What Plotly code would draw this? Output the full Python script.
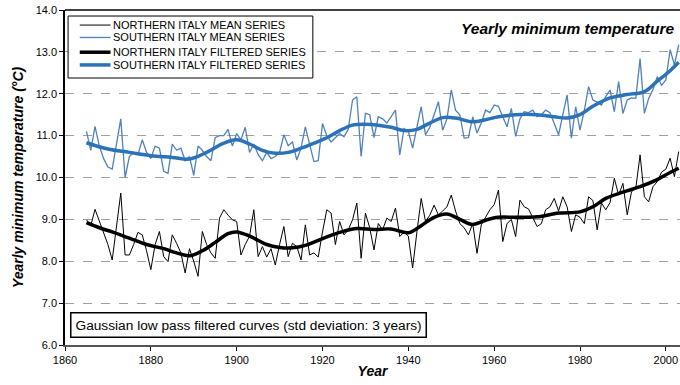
import plotly.graph_objects as go

years = list(range(1865, 2004))

north_mean = [
    8.99, 8.85, 9.24, 8.95, 8.71,            # 1865-1869
    8.40, 8.03, 8.80, 9.63, 8.15, 8.15, 8.40, 8.69, 8.63, 8.25,   # 1870-1879
    7.80, 8.40, 8.71, 8.11, 7.99, 8.63, 8.43, 8.20, 7.72, 8.30,   # 1880-1889
    8.00, 7.64, 8.71, 8.40, 8.20, 8.07, 9.03, 9.23, 9.10, 8.99,   # 1890-1899
    8.95, 8.15, 8.40, 8.60, 9.23, 8.11, 8.35, 8.10, 8.30, 7.91,   # 1900-1909
    8.40, 8.83, 8.11, 8.43, 8.35, 8.03, 8.87, 8.15, 8.20, 8.10,   # 1910-1919
    8.70, 9.23, 9.15, 8.40, 8.95, 8.63, 8.75, 8.99, 9.39, 8.07,   # 1920-1929
    9.15, 8.80, 8.27, 8.90, 8.75, 9.03, 8.95, 9.27, 8.59, 8.70,   # 1930-1939
    8.60, 7.84, 8.70, 9.50, 8.95, 9.10, 9.34, 9.11, 9.20, 9.30,   # 1940-1949
    9.58, 9.20, 8.90, 8.80, 8.63, 8.90, 8.19, 8.87, 9.05, 9.23,   # 1950-1959
    9.35, 9.70, 8.47, 8.90, 9.00, 8.59, 9.46, 9.30, 9.25, 9.05,   # 1960-1969
    8.83, 8.90, 9.23, 9.30, 9.50, 9.20, 9.54, 9.30, 8.71, 9.11,   # 1970-1979
    9.05, 8.90, 9.54, 9.45, 8.75, 9.39, 9.23, 9.40, 9.98, 9.58,   # 1980-1989
    9.86, 9.11, 9.66, 9.75, 10.54, 9.54, 9.42, 9.78, 9.90, 10.13, # 1990-1999
    10.20, 10.46, 10.02, 10.62,                                   # 2000-2003
]

south_mean = [
    11.10, 10.65, 11.22, 10.75, 10.45,                                 # 1865-1869
    10.25, 10.20, 10.80, 11.40, 10.00, 10.50, 10.60, 10.55, 10.90, 10.60,  # 1870-1879
    10.45, 10.75, 10.70, 10.15, 10.10, 10.80, 10.65, 10.70, 10.40, 10.50,  # 1880-1889
    10.05, 10.75, 10.65, 10.50, 10.40, 10.95, 11.00, 11.00, 11.15, 10.75,  # 1890-1899
    11.05, 10.90, 11.20, 10.60, 10.80, 10.55, 10.40, 10.60, 10.45, 10.50,  # 1900-1909
    10.60, 11.02, 10.76, 10.85, 10.42, 10.70, 11.21, 10.80, 10.38, 10.40,  # 1910-1919
    11.29, 11.00, 10.85, 10.95, 11.05, 10.97, 11.15, 11.85, 11.93, 10.50,  # 1920-1929
    11.53, 11.50, 10.95, 11.45, 11.40, 11.30, 11.45, 11.61, 10.54, 11.17,  # 1930-1939
    11.10, 10.70, 11.20, 11.69, 11.02, 11.20, 11.50, 11.81, 11.13, 11.40,  # 1940-1949
    12.09, 11.61, 11.50, 10.94, 10.95, 11.45, 11.06, 11.30, 11.61, 11.55,  # 1950-1959
    11.73, 11.70, 11.45, 11.21, 11.65, 10.98, 11.40, 11.57, 11.55, 11.61,  # 1960-1969
    11.45, 11.50, 11.61, 11.55, 11.29, 11.02, 11.50, 11.97, 10.94, 11.69,  # 1970-1979
    11.13, 11.60, 12.17, 11.85, 11.80, 11.73, 11.93, 12.09, 11.57, 12.29,  # 1980-1989
    11.53, 11.85, 11.90, 11.89, 12.84, 11.53, 11.89, 12.10, 12.41, 12.20,  # 1990-1999
    12.33, 13.05, 12.69, 13.17,                                            # 2000-2003
]

north_filt_years = [1865, 1868, 1871, 1875, 1879, 1883, 1886, 1889, 1892, 1895, 1898,
                    1900, 1903, 1907, 1910, 1913, 1916, 1919, 1922, 1925, 1928, 1932,
                    1936, 1940, 1943, 1946, 1949, 1952, 1955, 1958, 1961, 1965, 1970,
                    1975, 1980, 1983, 1986, 1990, 1994, 1998, 2001, 2003]
north_filt = [8.92, 8.80, 8.70, 8.55, 8.40, 8.30, 8.20, 8.13, 8.25, 8.45, 8.66,
              8.70, 8.60, 8.40, 8.33, 8.32, 8.38, 8.50, 8.62, 8.72, 8.78, 8.76,
              8.77, 8.68, 8.85, 9.05, 9.13, 9.00, 8.88, 8.98, 9.05, 9.05, 9.06,
              9.15, 9.18, 9.30, 9.50, 9.65, 9.78, 9.95, 10.12, 10.22]

south_filt_years = [1865, 1870, 1875, 1880, 1885, 1889, 1893, 1897, 1900, 1903, 1906,
                    1909, 1912, 1915, 1918, 1921, 1924, 1927, 1930, 1933, 1936, 1939,
                    1942, 1945, 1948, 1951, 1955, 1958, 1961, 1965, 1970, 1974, 1977,
                    1980, 1983, 1987, 1991, 1995, 1998, 2001, 2003]
south_filt = [10.83, 10.68, 10.60, 10.52, 10.48, 10.44, 10.60, 10.82, 10.90, 10.80, 10.65,
              10.58, 10.60, 10.70, 10.82, 10.95, 11.12, 11.25, 11.27, 11.25, 11.20, 11.12,
              11.15, 11.30, 11.43, 11.42, 11.33, 11.38, 11.45, 11.50, 11.50, 11.45, 11.42,
              11.50, 11.70, 11.90, 11.98, 12.05, 12.30, 12.55, 12.75]

series_names = ["NORTHERN ITALY MEAN SERIES", "SOUTHERN ITALY MEAN SERIES",
                "NORTHERN ITALY FILTERED SERIES", "SOUTHERN ITALY FILTERED SERIES"]

y_ticks = [6, 7, 8, 9, 10, 11, 12, 13, 14]
x_ticks = [1860, 1880, 1900, 1920, 1940, 1960, 1980, 2000]

FONT = "Liberation Sans, Arial, sans-serif"
BLUE_THIN = "#4f81bd"
BLUE_THICK = "#2c72b8"
styles = [dict(color="black", width=1), dict(color=BLUE_THIN, width=1.3),
          dict(color="black", width=3.5), dict(color=BLUE_THICK, width=3.5)]

fig = go.Figure()
fig.add_trace(go.Scatter(x=years, y=north_mean, mode="lines",
                         line=styles[0], name=series_names[0], showlegend=False))
fig.add_trace(go.Scatter(x=years, y=south_mean, mode="lines",
                         line=styles[1], name=series_names[1], showlegend=False))
fig.add_trace(go.Scatter(x=north_filt_years, y=north_filt, mode="lines",
                         line=dict(styles[2], shape="spline"), name=series_names[2],
                         showlegend=False))
fig.add_trace(go.Scatter(x=south_filt_years, y=south_filt, mode="lines",
                         line=dict(styles[3], shape="spline"), name=series_names[3],
                         showlegend=False))

# compact legend box (drawn in paper coordinates)
shapes = [
    dict(type="line", xref="paper", yref="paper", x0=0, x1=1, y0=1, y1=1,
         line=dict(color="black", width=1.5)),
    dict(type="rect", xref="paper", yref="paper", x0=0.005, x1=0.403, y0=0.797, y1=0.982,
         line=dict(color="black", width=1), fillcolor="white", layer="above"),
]
annotations = []
legend_rows = [0.955, 0.918, 0.874, 0.836]
for name, st, yy in zip(series_names, styles, legend_rows):
    shapes.append(dict(type="line", xref="paper", yref="paper", x0=0.024, x1=0.074,
                       y0=yy, y1=yy, line=st, layer="above"))
    annotations.append(dict(text=name, xref="paper", yref="paper", x=0.075, y=yy,
                            xanchor="left", yanchor="middle", showarrow=False,
                            font=dict(family=FONT, size=11)))

annotations += [
    dict(text="<b><i>Yearly minimum temperature</i></b>", xref="paper", yref="paper",
         x=0.993, y=0.975, xanchor="right", yanchor="top", showarrow=False,
         font=dict(family=FONT, size=15.5)),
    dict(text="Gaussian low pass filtered curves (std deviation: 3 years)",
         xref="paper", yref="paper", x=0.008, y=0.021, xanchor="left", yanchor="bottom",
         showarrow=False, bordercolor="black", borderwidth=1.5, borderpad=4,
         bgcolor="white", font=dict(family=FONT, size=13.7)),
]

fig.update_layout(
    width=680, height=385,
    margin=dict(l=65, r=0, t=10, b=40),
    paper_bgcolor="white", plot_bgcolor="white",
    font=dict(family=FONT, size=11, color="black"),
    showlegend=False,
    xaxis=dict(range=[1860, 2003.3], tickvals=x_ticks, ticks="outside", ticklen=4,
               tickcolor="black", showline=True, linecolor="#555", linewidth=2,
               showgrid=False, zeroline=False, mirror=False,
               ticklabeloverflow="allow",
               title=dict(text="<b><i>Year</i></b>", font=dict(size=14), standoff=1),
               tickfont=dict(size=11)),
    yaxis=dict(range=[6, 14], tickvals=y_ticks, tickformat=".1f", ticks="outside",
               ticklen=4, tickcolor="black", showline=True, linecolor="black",
               linewidth=1.5, showgrid=True, gridcolor="#a0a0a0", griddash="dash",
               gridwidth=1, zeroline=False, ticklabeloverflow="allow",
               title=dict(text="<b><i>Yearly minimum temperature (°C)</i></b>",
                          font=dict(size=14), standoff=9),
               tickfont=dict(size=11)),
    shapes=shapes,
    annotations=annotations,
)

fig.write_html("out.html",
               config={"displayModeBar": False},
               post_script="document.body.style.margin='0';document.body.style.overflow='hidden';")
